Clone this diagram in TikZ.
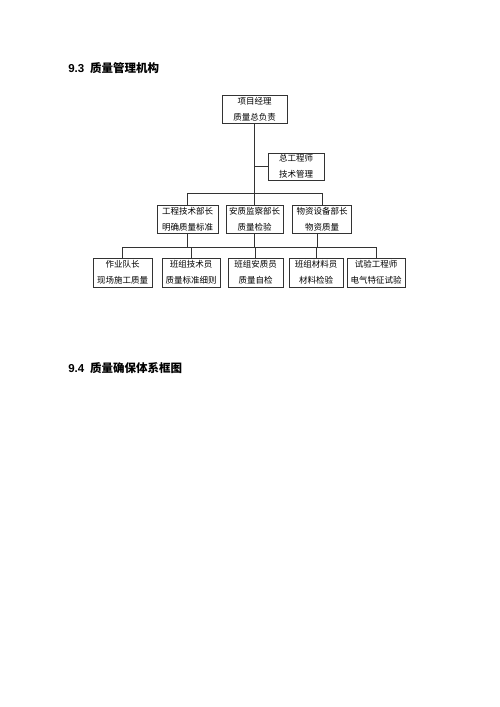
\documentclass[tikz,border=0pt]{standalone}
\usepackage{fontspec}
\setmainfont{Liberation Sans}
\newfontfamily\cjk{Noto Sans CJK SC}
\tikzstyle{org}=[x=1pt, y=-1pt, line width=0.5pt, draw=black!80]
\tikzstyle{box}=[rectangle, draw, inner xsep=2.5pt, inner ysep=0pt, minimum height=28pt, align=center, font=\cjk\fontsize{8.5}{16}\selectfont]
\tikzstyle{head}=[anchor=west, inner sep=0pt, font=\bfseries\fontsize{11.5}{12}\selectfont]
\tikzstyle{link}=[-]

\begin{document}
\begin{tikzpicture}[org]
	\useasboundingbox (0,0) rectangle (500,707);
	\draw (68,68) node[head] (h1) {9.3\hspace{6pt}{\cjk 质量管理机构}};
	\draw (68,368) node[head] (h2) {9.4\hspace{6pt}{\cjk 质量确保体系框图}};
	%
	\draw (254.5,109) node[box, minimum width=65pt] (pm) {项目经理\\质量总负责};
	\draw (296,166.5) node[box, minimum width=56pt, minimum height=27pt] (ce) {总工程师\\技术管理};
	%
	\draw (187.5,219) node[box, minimum width=61pt] (d1) {工程技术部长\\明确质量标准};
	\draw (254.5,219) node[box, minimum width=57pt] (d2) {安质监察部长\\质量检验};
	\draw (322,219) node[box, minimum width=59pt] (d3) {物资设备部长\\物资质量};
	%
	\draw (122.5,272.5) node[box, minimum width=59pt, minimum height=29pt] (b1) {作业队长\\现场施工质量};
	\draw (191,272.5) node[box, minimum width=58pt, minimum height=29pt] (b2) {班组技术员\\质量标准细则};
	\draw (255.5,272.5) node[box, minimum width=55pt, minimum height=29pt] (b3) {班组安质员\\质量自检};
	\draw (316,272.5) node[box, minimum width=54pt, minimum height=29pt] (b4) {班组材料员\\材料检验};
	\draw (376,272.5) node[box, minimum width=58pt, minimum height=29pt] (b5) {试验工程师\\电气特征试验};
	%
	\coordinate (topbar) at (0,193);
	\coordinate (lowbar) at (0,247);
	\draw[link] (pm.south) -- (d2.north);
	\draw[link] (pm.south |- ce.west) -- (ce.west);
	\draw[link] (d1.north) -- (d1.north |- topbar) -- (d3.north |- topbar) -- (d3.north);
	%
	\draw[link] (d1.south) -- (d1.south |- lowbar);
	\draw[link] (d2.south) -- (d2.south |- lowbar);
	\draw[link] ([xshift=-5pt]d3.south) -- ([xshift=-5pt]d3.south |- lowbar);
	\draw[link] (b1.north) -- (b1.north |- lowbar) -- (b5.north |- lowbar) -- (b5.north);
	\draw[link] (b2.north) -- (b2.north |- lowbar);
	\draw[link] (b3.north) -- (b3.north |- lowbar);
	\draw[link] (b4.north) -- (b4.north |- lowbar);
\end{tikzpicture}
\end{document}
